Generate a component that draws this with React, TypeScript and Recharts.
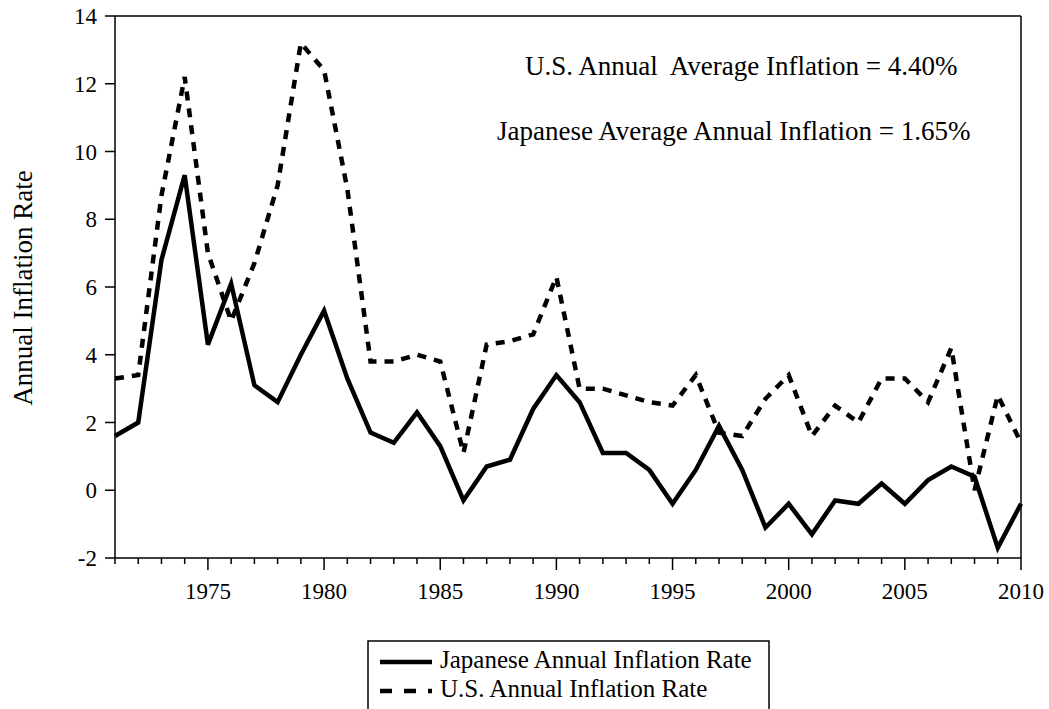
import React from "react";
import { LineChart, Line, XAxis, YAxis, ReferenceLine } from "recharts";

// annual inflation rates
const years = [
  1971, 1972, 1973, 1974, 1975, 1976, 1977, 1978, 1979, 1980,
  1981, 1982, 1983, 1984, 1985, 1986, 1987, 1988, 1989, 1990,
  1991, 1992, 1993, 1994, 1995, 1996, 1997, 1998, 1999, 2000,
  2001, 2002, 2003, 2004, 2005, 2006, 2007, 2008, 2009, 2010,
];
const japanRate = [
  1.6, 2.0, 6.8, 9.3, 4.3, 6.1, 3.1, 2.6, 4.0, 5.3,
  3.3, 1.7, 1.4, 2.3, 1.3, -0.3, 0.7, 0.9, 2.4, 3.4,
  2.6, 1.1, 1.1, 0.6, -0.4, 0.6, 1.9, 0.6, -1.1, -0.4,
  -1.3, -0.3, -0.4, 0.2, -0.4, 0.3, 0.7, 0.4, -1.7, -0.4,
];
const usRate = [
  3.3, 3.4, 8.7, 12.2, 7.0, 5.0, 6.7, 9.0, 13.2, 12.4,
  8.9, 3.8, 3.8, 4.0, 3.8, 1.1, 4.3, 4.4, 4.6, 6.3,
  3.0, 3.0, 2.8, 2.6, 2.5, 3.4, 1.7, 1.6, 2.7, 3.4,
  1.6, 2.5, 2.0, 3.3, 3.3, 2.6, 4.2, 0.0, 2.8, 1.4,
];
const rateTicks = [-2, 0, 2, 4, 6, 8, 10, 12, 14];

const seriesNames = ["Japanese Annual Inflation Rate", "U.S. Annual Inflation Rate"];
const notes = [
  "U.S. Annual  Average Inflation = 4.40%",
  "Japanese Average Annual Inflation = 1.65%",
];

const data = years.map((year, i) => ({ year, japan: japanRate[i], us: usRate[i] }));

const FONT = '"Liberation Serif", "Times New Roman", serif';

function YearTick(props: any) {
  const { x, y, payload } = props;
  const major = payload.value % 5 === 0;
  return (
    <g>
      <line x1={x} x2={x} y1={y} y2={y + (major ? 12 : 6)} stroke="#000" strokeWidth={1.5} />
      {major && (
        <text x={x} y={y + 41} textAnchor="middle" fontFamily={FONT} fontSize={23} fill="#000">
          {payload.value}
        </text>
      )}
    </g>
  );
}

export default function App() {
  return (
    <div style={{ position: "absolute", left: 0, top: 0, width: 1049, height: 709, background: "#fff", overflow: "hidden" }}>
      <LineChart
        width={1049}
        height={709}
        data={data}
        margin={{ top: 16, right: 28, bottom: 121, left: 55 }}
      >
        <XAxis
          dataKey="year"
          type="number"
          domain={[1971, 2010]}
          ticks={years}
          interval={0}
          height={30}
          tickSize={0}
          tickMargin={0}
          tickLine={false}
          tick={<YearTick />}
          axisLine={{ stroke: "#000", strokeWidth: 1.5 }}
        />
        <YAxis
          type="number"
          domain={[-2, 14]}
          ticks={rateTicks}
          allowDataOverflow
          width={60}
          tickSize={10}
          tickMargin={8}
          tickLine={{ stroke: "#000", strokeWidth: 1.5 }}
          axisLine={{ stroke: "#000", strokeWidth: 1.5 }}
          tick={{ fill: "#000", fontFamily: FONT, fontSize: 23 }}
        />
        <ReferenceLine y={14} stroke="#000" strokeWidth={1.5} />
        <ReferenceLine x={2010} stroke="#000" strokeWidth={1.5} />
        <Line
          type="linear"
          dataKey="us"
          stroke="#000"
          strokeWidth={4.5}
          strokeDasharray="9 8"
          strokeLinejoin="miter"
          dot={false}
          isAnimationActive={false}
        />
        <Line
          type="linear"
          dataKey="japan"
          stroke="#000"
          strokeWidth={4.5}
          strokeLinejoin="miter"
          dot={false}
          isAnimationActive={false}
        />
      </LineChart>

      <svg
        width={1049}
        height={709}
        style={{ position: "absolute", left: 0, top: 0, pointerEvents: "none" }}
        fontFamily={FONT}
        fill="#000"
      >
        <text x={525} y={75} fontSize={27} style={{ whiteSpace: "pre" }}>{notes[0]}</text>
        <text x={497} y={140} fontSize={27}>{notes[1]}</text>
        <text x={32} y={288} fontSize={27} textAnchor="middle" transform="rotate(-90 32 288)">
          Annual Inflation Rate
        </text>

        <rect x={368} y={641} width={401} height={90} fill="#fff" stroke="#000" strokeWidth={1.5} />
        <line x1={380} x2={432} y1={662} y2={662} stroke="#000" strokeWidth={4.5} />
        <text x={440} y={668} fontSize={25}>{seriesNames[0]}</text>
        <line x1={380} x2={432} y1={691} y2={691} stroke="#000" strokeWidth={4.5} strokeDasharray="12 12" />
        <text x={440} y={697} fontSize={25}>{seriesNames[1]}</text>
      </svg>
    </div>
  );
}
